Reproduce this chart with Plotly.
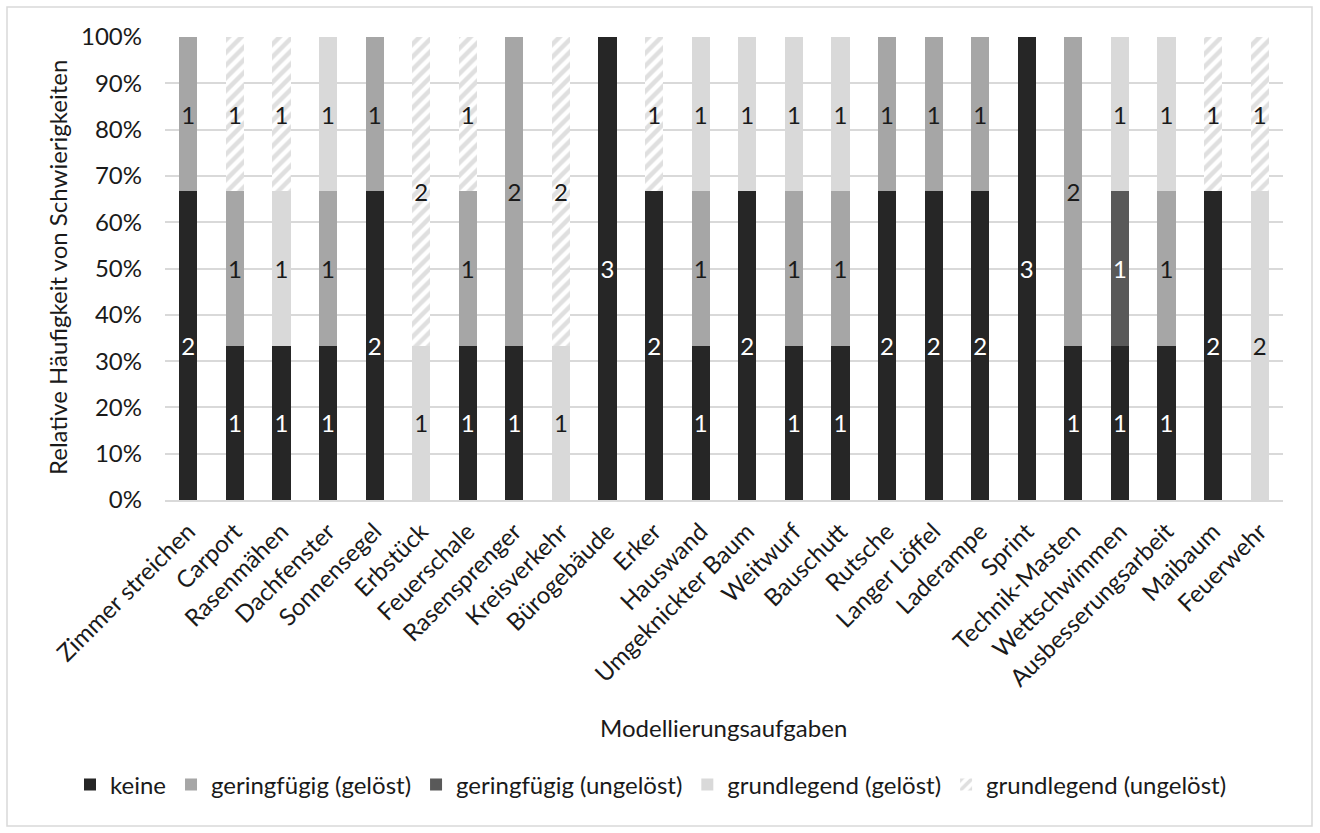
import plotly.graph_objects as go

# Modelling tasks (x categories)
aufgaben = [
    "Zimmer streichen", "Carport", "Rasenmähen", "Dachfenster", "Sonnensegel",
    "Erbstück", "Feuerschale", "Rasensprenger", "Kreisverkehr", "Bürogebäude",
    "Erker", "Hauswand", "Umgeknickter Baum", "Weitwurf", "Bauschutt",
    "Rutsche", "Langer Löffel", "Laderampe", "Sprint", "Technik-Masten",
    "Wettschwimmen", "Ausbesserungsarbeit", "Maibaum", "Feuerwehr",
]

# Absolute counts per difficulty category
keine = [2, 1, 1, 1, 2, 0, 1, 1, 0, 3, 2, 1, 2, 1, 1, 2, 2, 2, 3, 1, 1, 1, 2, 0]
geringfuegig_geloest = [1, 1, 0, 1, 1, 0, 1, 2, 0, 0, 0, 1, 0, 1, 1, 1, 1, 1, 0, 2, 0, 1, 0, 0]
geringfuegig_ungeloest = [0, 0, 0, 0, 0, 0, 0, 0, 0, 0, 0, 0, 0, 0, 0, 0, 0, 0, 0, 0, 1, 0, 0, 0]
grundlegend_geloest = [0, 0, 1, 1, 0, 1, 0, 0, 1, 0, 0, 1, 1, 1, 1, 0, 0, 0, 0, 0, 1, 1, 0, 2]
grundlegend_ungeloest = [0, 1, 1, 0, 0, 2, 1, 0, 2, 0, 1, 0, 0, 0, 0, 0, 0, 0, 0, 0, 0, 0, 1, 1]

FONT = "Lato"
FS = 24
TXT = "#1a1a1a"

series = [
    ("keine", keine, "#262626", "white", None),
    ("geringfügig (gelöst)", geringfuegig_geloest, "#a6a6a6", TXT, None),
    ("geringfügig (ungelöst)", geringfuegig_ungeloest, "#595959", "white", None),
    ("grundlegend (gelöst)", grundlegend_geloest, "#d9d9d9", TXT, None),
    ("grundlegend (ungelöst)", grundlegend_ungeloest, "white", TXT, "/"),
]

fig = go.Figure()
for name, vals, color, tcolor, pattern in series:
    marker = dict(color=color, line=dict(width=0))
    if pattern:
        marker["pattern"] = dict(shape=pattern, fgcolor="#bfbfbf", bgcolor="white",
                                 size=9, solidity=0.5)
    fig.add_trace(go.Bar(
        name=name,
        x=aufgaben,
        y=[v if v else None for v in vals],
        text=[str(v) if v else "" for v in vals],
        textposition="inside",
        insidetextanchor="middle",
        textangle=0,
        textfont=dict(family=FONT, size=FS, color=tcolor),
        marker=marker,
        hoverinfo="skip",
    ))

# Plot area in pixels (for paper-coordinate conversion)
L, R, T, B = 165, 1283, 37, 500
W, H = R - L, B - T


def px(xp):
    return (xp - L) / W


def py(yp):
    return (B - yp) / H


fig.update_layout(
    width=1320,
    height=833,
    barmode="stack",
    barnorm="fraction",
    bargap=0.61,
    plot_bgcolor="white",
    paper_bgcolor="white",
    margin=dict(l=L, r=1320 - R, t=T, b=833 - B),
    font=dict(family=FONT, size=FS, color=TXT),
    uniformtext=dict(minsize=FS, mode="show"),
    showlegend=True,
    legend=dict(
        orientation="h",
        x=px(70), y=py(785),
        xanchor="left", yanchor="middle",
        font=dict(family=FONT, size=FS, color=TXT),
        itemwidth=30,
        traceorder="normal",
        tracegroupgap=0,
    ),
    xaxis=dict(
        tickangle=-45,
        tickfont=dict(family=FONT, size=FS, color=TXT),
        showline=True, linecolor="#d9d9d9", linewidth=2,
        showgrid=False,
        ticks="",
        ticklabelstandoff=6,
    ),
    yaxis=dict(
        range=[0, 1],
        dtick=0.1,
        tickformat=".0%",
        tickfont=dict(family=FONT, size=FS, color=TXT),
        showgrid=True, gridcolor="#d9d9d9", gridwidth=1.5,
        zeroline=False,
        showline=False,
        ticks="",
        ticklabelstandoff=22,
    ),
    annotations=[
        dict(text="Relative Häufigkeit von Schwierigkeiten", textangle=-90,
             x=px(57), y=py(268), xref="paper", yref="paper",
             showarrow=False, font=dict(family=FONT, size=FS, color=TXT),
             xanchor="center", yanchor="middle"),
        dict(text="Modellierungsaufgaben",
             x=px(723), y=py(727), xref="paper", yref="paper",
             showarrow=False, font=dict(family=FONT, size=FS, color=TXT),
             xanchor="center", yanchor="middle"),
    ],
    shapes=[
        dict(type="rect", xref="paper", yref="paper",
             x0=px(7), x1=px(1312), y0=py(826), y1=py(7),
             line=dict(color="#d9d9d9", width=1.5), fillcolor="rgba(0,0,0,0)",
             layer="below"),
    ],
)

fig.write_html("out.html")
